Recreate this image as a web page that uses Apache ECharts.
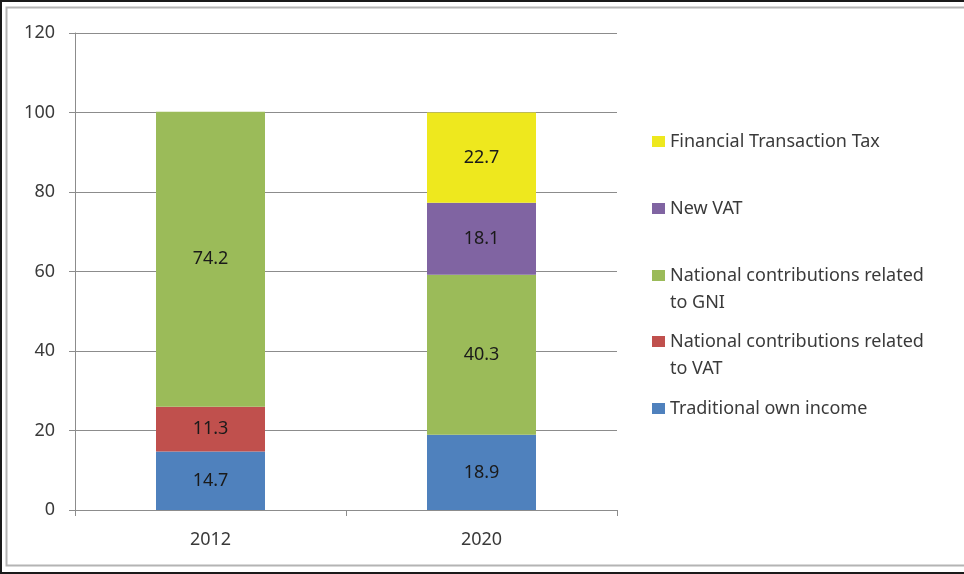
<!DOCTYPE html>
<html>
<head>
<meta charset="utf-8">
<script src="https://cdn.jsdelivr.net/npm/echarts@6/dist/echarts.min.js"></script>
<style>
  html, body { margin: 0; padding: 0; background: #fff; }
  #chart { width: 964px; height: 574px; }
</style>
</head>
<body>
<div id="chart"></div>
<script>
// Own-resources composition of the budget, in percent
const years = ['2012', '2020'];
const yTicks = [0, 20, 40, 60, 80, 100, 120];

const traditionalOwnIncome = [14.7, 18.9];
const vatContributions     = [11.3, null];
const gniContributions     = [74.2, 40.3];
const newVat               = [null, 18.1];
const financialTxTax       = [null, 22.7];

const seriesNames = [
  'Traditional own income',
  'National contributions related\nto VAT',
  'National contributions related\nto GNI',
  'New VAT',
  'Financial Transaction Tax'
];
const seriesData = [traditionalOwnIncome, vatContributions, gniContributions, newVat, financialTxTax];
const seriesColors = ['#4F81BD', '#C0504D', '#9BBB59', '#8064A2', '#EEE81E'];

const FONT = '"Noto Sans", "Open Sans", sans-serif';
const TEXT = '#3a3a3a';
const GRID_LINE = '#8c8c8c';

const chart = echarts.init(document.getElementById('chart'), null, { renderer: 'canvas' });

// One legend block per entry, each at its own height (listed per series).
// Two-line entries use a tall swatch path whose filled square sits at the top,
// so the colour box lines up with the first text line.
const LINE_H = 27;
const legendTops = [395, 328, 262, 195, 128];
const TALL_SWATCH = 'path://M0 0H13V11H0Z M0 38L0.01 38';
const legends = seriesNames.map((name, i) => {
  const twoLine = name.indexOf('\n') >= 0;
  return {
    show: true,
    left: 652,
    top: legendTops[i],
    padding: 0,
    orient: 'vertical',
    itemWidth: 13,
    itemHeight: twoLine ? 38 : 11,
    selectedMode: false,
    data: [{ name: name, icon: twoLine ? TALL_SWATCH : 'rect' }],
    textStyle: {
      fontFamily: FONT,
      fontSize: 18,
      color: TEXT,
      lineHeight: LINE_H
    }
  };
});

chart.setOption({
  animation: false,
  backgroundColor: '#fff',
  graphic: [
    { type: 'rect', shape: { x: 1, y: 1, width: 980, height: 572 }, style: { fill: 'none', stroke: '#1a1a1a', lineWidth: 2 }, silent: true },
    { type: 'rect', shape: { x: 6.5, y: 7.5, width: 980, height: 558 }, style: { fill: 'none', stroke: '#b4b4b4', lineWidth: 2 }, silent: true }
  ],
  grid: { left: 75, right: 347, top: 33, bottom: 64, containLabel: false },
  legend: legends,
  xAxis: {
    type: 'category',
    data: years,
    axisLine: { lineStyle: { color: GRID_LINE, width: 1 } },
    axisTick: { show: true, length: 6, lineStyle: { color: GRID_LINE } },
    axisLabel: { fontFamily: FONT, fontSize: 18, color: TEXT, margin: 21 }
  },
  yAxis: {
    type: 'value',
    min: yTicks[0],
    max: yTicks[yTicks.length - 1],
    interval: yTicks[1] - yTicks[0],
    axisLine: { show: true, lineStyle: { color: GRID_LINE, width: 1 } },
    axisTick: { show: true, length: 6, lineStyle: { color: GRID_LINE } },
    splitLine: { show: true, lineStyle: { color: GRID_LINE, width: 1 } },
    axisLabel: { fontFamily: FONT, fontSize: 18, color: TEXT, margin: 20 }
  },
  series: seriesData.map((data, i) => ({
    name: seriesNames[i],
    type: 'bar',
    stack: 'total',
    barWidth: 109,
    data: data,
    itemStyle: { color: seriesColors[i] },
    label: {
      show: true,
      position: 'inside',
      fontFamily: FONT,
      fontSize: 18,
      color: '#1a1a1a',
      formatter: p => (p.value == null ? '' : p.value.toFixed(1))
    }
  }))
});
</script>
</body>
</html>
